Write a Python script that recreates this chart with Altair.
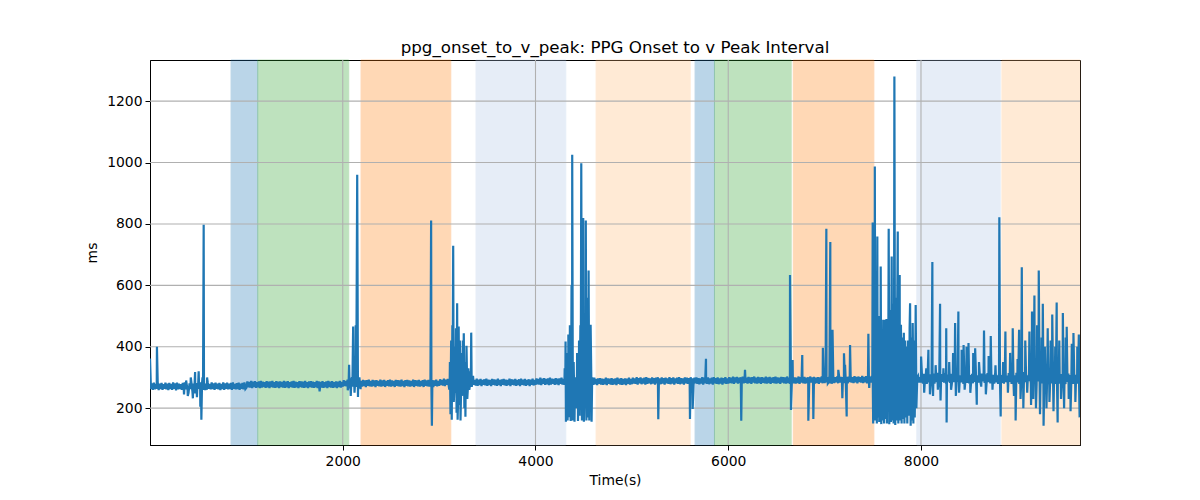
import altair as alt
import pandas as pd

TITLE = "ppg_onset_to_v_peak: PPG Onset to v Peak Interval"
X_TITLE = "Time(s)"
Y_TITLE = "ms"
X_MIN, X_MAX = 0, 9650
Y_MIN, Y_MAX = 80, 1334
X_TICKS = [2000, 4000, 6000, 8000]
Y_TICKS = [200, 400, 600, 800, 1000, 1200]

# shaded intervals (seconds)
band_start = [841, 1118, 2190, 3383, 4629, 5656, 5857, 6675, 7957, 8840]
band_end = [1118, 2062, 3121, 4314, 5605, 5857, 6653, 7511, 8822, 9650]
band_kind = ["blue", "green", "orange", "lightblue", "lightorange",
             "blue", "green", "orange", "lightblue", "lightorange"]
kind_names = ["blue", "green", "orange", "lightblue", "lightorange"]
kind_colors = ["#1f77b4", "#2ca02c", "#ff7f0e", "#aec7e8", "#ffbb78"]
kind_alpha = [0.3, 0.3, 0.3, 0.33, 0.3]

# baseline samples every 10 s
BASE_STEP = 10
seg_a = [362, 262, 281, 260, 283, 261, 279, 263, 284, 259, 280, 262, 282, 260, 278, 263, 283, 261, 280, 259,
         282, 262, 279, 260, 284, 263, 281, 258, 283, 261, 280, 262, 278, 260, 282, 263, 284, 261, 279, 259,
         250, 281, 262, 283, 255, 280, 261, 248, 282, 260, 279, 263, 284, 261, 281, 259, 283, 262, 280, 260,
         282, 263, 279, 261, 284, 262, 281, 260, 283, 263, 280, 261, 282, 259, 279, 262, 284, 260, 281, 263,
         283, 261, 280, 262, 282, 260, 284, 263, 279, 261, 281, 262, 283, 260, 280, 263, 282, 261, 284, 262]
seg_b = [266, 287, 268, 285, 267, 289, 265, 286, 269, 288, 266, 285, 268, 287, 265, 289, 267, 286, 269, 285,
         266, 288, 268, 286, 265, 287, 269, 289, 267, 285, 266, 288, 268, 286, 265, 287, 269, 285, 267, 289,
         266, 286, 268, 288, 265, 285, 269, 287, 267, 289, 266, 286, 268, 285, 265, 288, 269, 287, 267, 286,
         266, 289, 268, 285, 265, 287, 269, 288, 267, 286, 266, 285, 268, 289, 265, 287, 255, 286, 267, 288,
         266, 285, 268, 287, 265, 289, 269, 286, 267, 288, 266, 285, 268, 287, 265, 286, 269, 289, 267, 285]
seg_c = [270, 291, 272, 289, 271, 293, 269, 290, 273, 292, 270, 289, 272, 291, 269, 293, 271, 290, 273, 289,
         270, 292, 272, 290, 269, 291, 273, 293, 271, 289, 270, 292, 272, 290, 269, 291, 273, 289, 271, 293,
         270, 290, 272, 292, 269, 289, 273, 291, 271, 293, 270, 290, 272, 289, 269, 292, 273, 291, 271, 290,
         270, 293, 272, 289, 269, 291, 273, 292, 271, 290, 270, 289, 272, 293, 269, 291, 273, 290, 271, 292,
         270, 289, 272, 291, 269, 293, 273, 290, 271, 292, 270, 289, 272, 291, 269, 290, 273, 293, 271, 289]
seg_d = [273, 294, 275, 292, 274, 296, 272, 293, 276, 295, 273, 292, 275, 294, 272, 296, 274, 293, 276, 292,
         273, 295, 275, 293, 272, 294, 276, 296, 274, 292, 273, 295, 275, 293, 272, 294, 276, 292, 274, 296,
         273, 293, 275, 295, 272, 292, 276, 294, 274, 296, 273, 293, 275, 292, 272, 295, 276, 294, 274, 293,
         273, 296, 275, 292, 272, 294, 276, 295, 274, 293, 273, 292, 275, 296, 272, 294, 276, 293, 274, 295,
         273, 292, 275, 294, 272, 296, 276, 293, 274, 295, 273, 292, 275, 294, 272, 293, 276, 296, 274, 292]
seg_e = [276, 297, 278, 295, 277, 299, 275, 296, 279, 298, 276, 295, 278, 297, 275, 299, 277, 296, 279, 295,
         276, 298, 278, 296, 275, 297, 279, 299, 277, 295, 276, 298, 278, 296, 275, 297, 279, 295, 277, 299,
         276, 296, 278, 298, 275, 295, 279, 297, 277, 299, 276, 296, 278, 295, 275, 298, 279, 297, 277, 296,
         276, 299, 278, 295, 275, 297, 279, 298, 277, 296, 276, 295, 278, 299, 275, 297, 279, 296, 277, 298,
         276, 295, 278, 297, 275, 299, 279, 296, 277, 298, 276, 295, 278, 297, 275, 296, 279, 299, 277, 295]
seg_f = [278, 299, 280, 297, 279, 301, 277, 298, 281, 300, 278, 297, 280, 299, 277, 301, 279, 298, 281, 297,
         278, 300, 280, 298, 277, 299, 281, 301, 279, 297, 278, 300, 280, 298, 277, 299, 281, 297, 279, 301,
         278, 298, 280, 300, 277, 297, 281, 299, 279, 301, 278, 298, 280, 297, 277, 300, 281, 299, 279, 298,
         278, 301, 280, 297, 277, 299, 281, 300, 279, 298, 278, 297, 280, 301, 277, 299, 281, 298, 279, 300,
         278, 297, 280, 299, 277, 301, 281, 298, 279, 300, 278, 297, 280, 299, 277, 298, 281, 301, 279, 297]
seg_g = [280, 301, 282, 299, 281, 303, 279, 300, 283, 302, 280, 299, 282, 301, 279, 303, 281, 300, 283, 299,
         280, 302, 282, 300, 279, 301, 283, 303, 281, 299, 280, 302, 282, 300, 279, 301, 283, 299, 281, 303,
         280, 300, 282, 302, 279, 299, 283, 301, 281, 303, 280, 300, 282, 299, 279, 302, 283, 301, 281, 300,
         280, 303, 282, 299, 279, 301, 283, 302, 281, 300, 280, 299, 282, 303, 279, 301, 283, 300, 281, 302,
         280, 299, 282, 301, 279, 303, 283, 300, 281, 302, 280, 299, 282, 301, 279, 300, 283, 303, 281, 299]
seg_h = [282, 303, 284, 301, 283, 305, 281, 302, 285, 304, 282, 301, 284, 303, 281, 305, 283, 302, 285, 301,
         282, 304, 284, 302, 281, 303, 285, 305, 283, 301, 282, 304, 284, 302, 281, 303, 285, 301, 283, 305,
         282, 302, 284, 304, 281, 301, 285, 303, 283, 305, 282, 302, 284, 301, 281, 304, 285, 303, 283, 302,
         282, 305, 284, 301, 281, 303, 285, 304, 283, 302, 282, 301, 284, 305, 281, 303, 285, 302, 283, 304,
         282, 301, 284, 303, 281, 305, 285, 302, 283, 304, 282, 301, 284, 303, 281, 302, 285, 305, 283, 301]
seg_i = [283, 309, 280, 312, 286, 307, 279, 314, 284, 310, 281, 306, 287, 313, 280, 308, 285, 315, 282, 309,
         279, 311, 286, 307, 283, 314, 280, 310, 287, 306, 282, 312, 279, 308, 285, 315, 281, 309, 286, 311,
         280, 307, 284, 313, 279, 310, 287, 306, 282, 314, 280, 308, 285, 312, 281, 309, 286, 315, 279, 307,
         283, 311, 280, 313, 287, 308, 282, 310, 279, 314, 285, 306, 281, 312, 286, 309, 280, 315, 284, 307,
         279, 311, 287, 308, 282, 313, 280, 310, 285, 306, 281, 314, 286, 309, 279, 312, 284, 307, 282, 315]
seg_j = [284, 311, 279, 316, 287, 309, 281, 318, 285, 312, 278, 307, 288, 315, 280, 310, 286, 317, 282, 308,
         279, 313, 287, 309, 283, 316, 280, 311, 288, 306, 282, 314, 278, 310, 286, 318, 281, 308, 285, 312,
         279, 309, 287, 315, 280, 311, 284, 307, 282, 317, 278, 310, 286, 313, 281, 308, 288, 316, 279, 311,
         285, 309, 280, 314, 287]

# spikes / artefacts (time, value)
spike_t = [72, 353, 375, 392, 423, 445, 468, 487, 505, 522, 533, 545, 557, 575, 592,
           2052, 2066, 2083, 2095, 2108, 2122, 2135, 2150, 2158, 2173, 2185,
           2917, 2925,
           3105, 3112, 3118, 3125, 3131, 3137, 3146, 3152, 3163, 3167, 3175, 3181, 3187, 3192, 3203, 3208,
           3215, 3222, 3233, 3238, 3246, 3256, 3262, 3273, 3277, 3284, 3292, 3303, 3313, 3322, 3333, 3338, 3352,
           4303, 4312, 4316, 4325, 4333, 4341, 4352, 4357, 4365, 4374, 4381, 4388, 4396, 4405, 4414, 4422,
           4432, 4441, 4452, 4458, 4466, 4475, 4482, 4487, 4495, 4502, 4513, 4522, 4528, 4536, 4544, 4551,
           4558, 4566, 4572, 4582, 4588, 4596,
           5274, 5603, 5615, 5631, 5769, 6135, 6174, 6641, 6651, 6668, 6768, 6831, 6883, 6982, 7018, 7033,
           7059, 7073, 7082, 7142, 7184, 7201, 7212, 7229, 7264, 7454, 7463,
           7495, 7499, 7504, 7512, 7521, 7526, 7533, 7542, 7547, 7553, 7562, 7567, 7575, 7582, 7588, 7595,
           7602, 7608, 7617, 7625, 7632, 7642, 7647, 7655, 7665, 7671, 7682, 7688, 7696, 7702, 7708, 7716,
           7724, 7733, 7738, 7745, 7752, 7759, 7765, 7772, 7779, 7785, 7792, 7799, 7806, 7813, 7822, 7828,
           7835, 7842, 7853, 7858, 7865, 7872, 7882, 7887, 7893, 7902, 7907, 7914, 7921, 7928, 7935, 7945,
           7952, 7962,
           8001, 8033, 8055, 8077, 8093, 8118, 8125, 8152, 8175, 8198, 8203, 8233, 8262, 8266, 8293, 8312,
           8333, 8354, 8362, 8388, 8395, 8422, 8442, 8453, 8473, 8493, 8512, 8542, 8562, 8579, 8602, 8625,
           8654, 8673, 8702, 8724, 8742, 8773, 8802, 8813, 8827, 8852, 8876, 8902, 8925, 8952, 8965, 8982,
           9002, 9018, 9033, 9046, 9062, 9082, 9102, 9125, 9142, 9152, 9165, 9177, 9193, 9205, 9222, 9235,
           9252, 9264, 9272, 9285, 9302, 9315, 9333, 9345, 9362, 9375, 9393, 9408, 9418, 9435, 9453, 9472,
           9485, 9502, 9512, 9533, 9552, 9565, 9582, 9602, 9622, 9638, 9646]
spike_v = [400, 245, 290, 240, 300, 232, 318, 236, 320, 205, 162, 300, 797, 262, 300,
           258, 341, 240, 300, 466, 250, 470, 960, 236, 300, 262,
           811, 143,
           260, 350, 180, 420, 162, 470, 729, 220, 400, 250, 460, 185, 542, 162, 466, 210,
           420, 160, 380, 240, 420, 444, 200, 172, 350, 403, 230, 330, 260, 320, 446, 270, 305,
           330, 417, 156, 380, 160, 440, 170, 470, 158, 600, 1025, 160, 350, 156, 300, 200,
           380, 158, 420, 175, 470, 998, 160, 600, 819, 156, 500, 811, 160, 560, 170, 648,
           160, 470, 472, 156, 300, 290,
           164, 165, 280, 197, 361, 159, 325, 634, 194, 357, 373, 159, 165, 397, 784, 280,
           741, 280, 455, 325, 232, 379, 341, 173, 406, 442, 266,
           300, 805, 150, 500, 987, 160, 480, 150, 759, 170, 500, 155, 480, 661, 148, 420,
           160, 488, 150, 488, 165, 490, 150, 450, 784, 148, 520, 155, 694, 160, 540, 150,
           1280, 145, 560, 160, 470, 775, 150, 500, 634, 160, 472, 150, 430, 165, 446, 150,
           420, 170, 400, 150, 420, 175, 460, 542, 143, 430, 160, 477, 150, 420, 170, 536,
           200, 300,
           368, 250, 330, 390, 245, 676, 240, 340, 260, 540, 225, 330, 460, 153, 350, 260,
           380, 477, 240, 515, 250, 390, 406, 260, 400, 412, 250, 380, 395, 211, 350, 270,
           453, 245, 370, 435, 260, 340, 300, 822, 173, 350, 450, 250, 380, 460, 240, 160,
           360, 455, 230, 659, 200, 420, 250, 450, 210, 515, 230, 567, 200, 470, 648, 180,
           430, 540, 143, 400, 200, 460, 220, 420, 505, 190, 400, 544, 153, 420, 230, 510,
           200, 430, 465, 230, 190, 410, 445, 220, 400, 440, 170]

base_vals = seg_a + seg_b + seg_c + seg_d + seg_e + seg_f + seg_g + seg_h + seg_i + seg_j
base = pd.DataFrame({"t": [i * BASE_STEP for i in range(len(base_vals))], "v": base_vals})
spikes = pd.DataFrame({"t": spike_t, "v": spike_v})
base = base[~base["t"].isin(spikes["t"])]
series = pd.concat([base, spikes]).sort_values("t").reset_index(drop=True)

bands = pd.DataFrame({"start": band_start, "end": band_end, "kind": band_kind})
gx = pd.DataFrame({"x": X_TICKS})
gy = pd.DataFrame({"y": Y_TICKS})

W, H = 930, 385
FONT = "DejaVu Sans"
GRID = "#b0b0b0"
FS = 13.9

xscale = alt.Scale(domain=[X_MIN, X_MAX], nice=False, zero=False)
yscale = alt.Scale(domain=[Y_MIN, Y_MAX], nice=False, zero=False)

xaxis = alt.Axis(values=X_TICKS, format="d", grid=False, title=X_TITLE, tickSize=5,
                 labelPadding=4, titlePadding=6, domainColor="black", tickColor="black",
                 labelFont=FONT, titleFont=FONT, labelFontSize=FS, titleFontSize=FS,
                 labelColor="black", titleColor="black", titleFontWeight="normal")
yaxis = alt.Axis(values=Y_TICKS, format="d", grid=False, title=Y_TITLE, tickSize=5,
                 labelPadding=3, titlePadding=7, domainColor="black", tickColor="black",
                 labelFont=FONT, titleFont=FONT, labelFontSize=FS, titleFontSize=FS,
                 labelColor="black", titleColor="black", titleFontWeight="normal")

band_layer = alt.Chart(bands).mark_rect(strokeWidth=1).encode(
    x=alt.X("start:Q", scale=xscale, axis=xaxis),
    x2="end:Q",
    y=alt.datum(Y_MIN, scale=yscale, axis=yaxis),
    y2=alt.datum(Y_MAX),
    color=alt.Color("kind:N", scale=alt.Scale(domain=kind_names, range=kind_colors), legend=None),
    stroke=alt.Stroke("kind:N", scale=alt.Scale(domain=kind_names, range=kind_colors), legend=None),
    opacity=alt.Opacity("kind:N", scale=alt.Scale(domain=kind_names, range=kind_alpha), legend=None),
)

grid_x = alt.Chart(gx).mark_rule(color=GRID, strokeWidth=1.1).encode(
    x=alt.X("x:Q", scale=xscale),
)
grid_y = alt.Chart(gy).mark_rule(color=GRID, strokeWidth=1.1).encode(
    y=alt.Y("y:Q", scale=yscale),
)

line = alt.Chart(series).mark_line(color="#1f77b4", strokeWidth=2.2, clip=True).encode(
    x=alt.X("t:Q", scale=xscale),
    y=alt.Y("v:Q", scale=yscale),
)

chart = alt.layer(band_layer, grid_x, grid_y, line).properties(
    width=W,
    height=H,
    background="white",
    title=alt.TitleParams(TITLE, fontSize=16.7, font=FONT, fontWeight="normal", color="black", offset=3),
    autosize=alt.AutoSizeParams(type="none"),
    padding={"left": 142, "top": 52, "right": 20, "bottom": 52},
).configure_view(
    stroke="black", strokeWidth=1
)

chart.save("out.html", embed_options={"renderer": "svg", "actions": False})
